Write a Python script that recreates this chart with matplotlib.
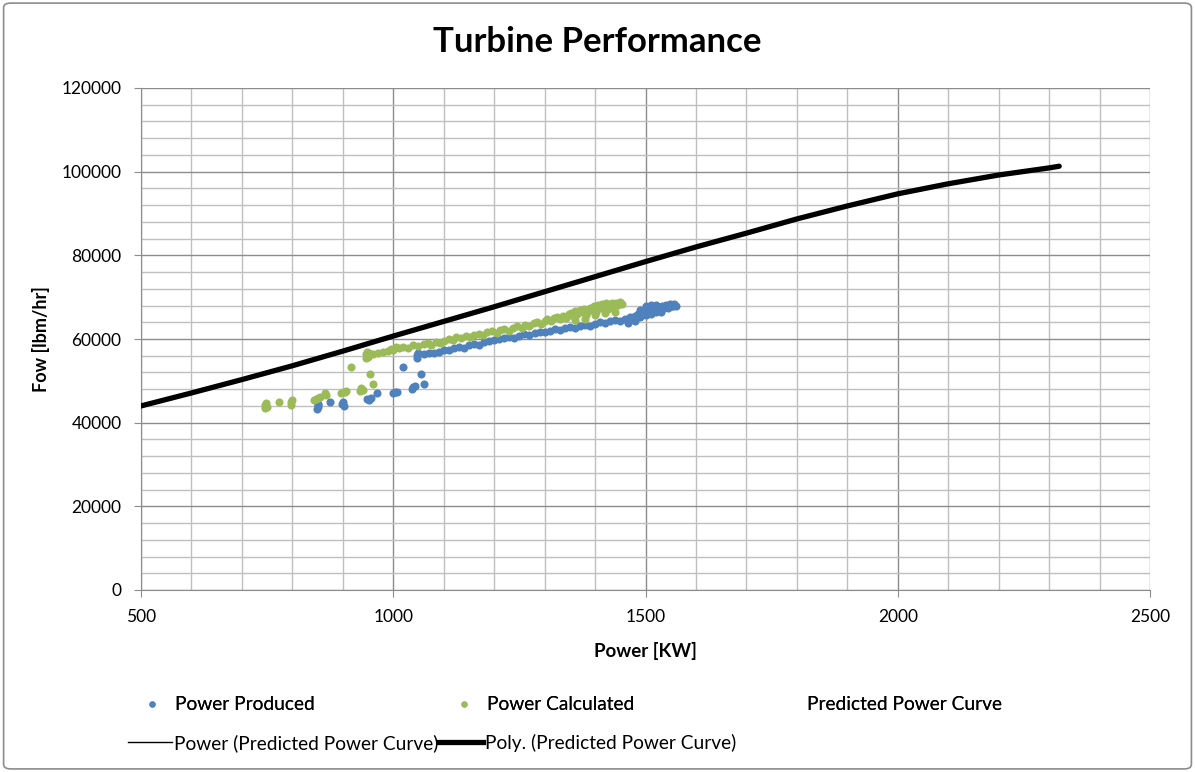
import matplotlib.pyplot as plt
from matplotlib.lines import Line2D
from matplotlib.patches import FancyBboxPatch
from matplotlib.ticker import MultipleLocator

plt.rcParams['font.family'] = ['Lato', 'DejaVu Sans']

# predicted power curve
curve_kw = [500, 600, 700, 800, 900, 1000, 1100, 1200, 1300, 1400, 1500,
            1600, 1700, 1800, 1900, 2000, 2100, 2200, 2300, 2320]
curve_flow = [44000, 47100, 50300, 53600, 57100, 60700, 64200, 67700, 71300, 74900, 78500,
              82000, 85300, 88700, 91800, 94700, 97100, 99200, 100900, 101300]

# power produced (blue)
produced_kw = [848, 850, 851, 850, 875, 898, 900, 902, 948, 952, 955, 967, 1000, 1004, 1008,
               1019, 1037, 1040, 1043, 1055, 1060, 1047, 1048, 1050,
               1060, 1070, 1080, 1090, 1100, 1110, 1120, 1130, 1140, 1150, 1160, 1170, 1180,
               1190, 1200, 1210, 1220, 1230, 1240, 1250, 1260, 1270, 1280, 1290, 1300, 1310,
               1320, 1330, 1340, 1350, 1360, 1370, 1380, 1390, 1400, 1410, 1420, 1430, 1440,
               1450, 1460, 1470, 1475, 1480, 1485, 1490, 1495, 1500, 1505, 1510, 1515, 1520,
               1524, 1528, 1532, 1536, 1540, 1544, 1548, 1552, 1556, 1560, 1500, 1510, 1520,
               1490, 1530, 1545, 1555, 1480, 1465]
produced_flow = [43200, 43700, 44200, 44500, 44900, 44400, 45000, 44100, 45700, 45300, 46000,
                 47000, 47200, 47300, 47300, 53400, 48000, 48500, 48700, 51600, 49200, 55500,
                 56200, 56700,
                 56300, 56600, 56600, 57000, 57400, 57300, 57800, 58100, 57900, 58500, 58800,
                 58600, 59200, 59500, 59800, 60000, 60200, 60500, 60300, 60800, 61100, 60900,
                 61400, 61700, 61600, 62000, 62300, 62100, 62600, 62900, 62700, 63200, 63400,
                 63200, 63700, 64000, 63800, 64300, 64600, 64200, 64900, 65200, 64800, 65400,
                 65900, 65200, 66300, 65700, 66700, 66000, 67100, 66500, 67600, 67000, 68000,
                 67400, 68200, 67700, 68400, 67900, 68300, 68000, 67800, 68100, 68200, 67000,
                 66500, 67300, 68000, 64300, 63900]

# power calculated (green)
calculated_kw = [745, 746, 748, 750, 773, 797, 797, 799, 843, 847, 851, 855, 864, 866,
                 896, 900, 904, 907, 916, 935, 937, 940, 954, 960,
                 945, 946, 948, 950, 952,
                 960, 970, 980, 990, 995, 1000, 1005, 1012, 1020, 1030, 1040, 1050, 1060,
                 1068, 1075, 1085, 1093, 1100, 1110, 1118, 1125, 1135, 1145, 1152, 1160,
                 1170, 1178, 1185, 1195, 1205, 1212, 1220, 1230, 1238, 1245, 1255, 1262,
                 1270, 1278, 1285, 1292, 1300, 1305, 1312, 1318, 1325, 1330, 1336, 1342,
                 1348, 1352, 1356, 1360, 1365, 1370, 1374, 1378, 1382, 1386, 1390, 1394,
                 1398, 1402, 1406, 1410, 1414, 1418, 1422, 1426, 1430, 1434, 1438, 1442,
                 1446, 1450, 1454, 1420, 1400, 1440, 1380, 1360]
calculated_flow = [43400, 44200, 44700, 43800, 44900, 44900, 44200, 45300, 45300, 45700,
                   46000, 46100, 47000, 46700, 47100, 47400, 47300, 47500, 53400, 47600,
                   48200, 47800, 51600, 49200,
                   55500, 56300, 56900, 55800, 56600,
                   56500, 56700, 56900, 57100, 57700, 57400, 58000, 57900, 58200, 57800,
                   58500, 58300, 58700, 59000, 58600, 59300, 59000, 59600, 60000, 59700,
                   60400, 60200, 60800, 60500, 61000, 61200, 60900, 61600, 61800, 61500,
                   62100, 62400, 62000, 62700, 63000, 62700, 63400, 63200, 63800, 64100,
                   63700, 64400, 64800, 64300, 65000, 65300, 64800, 65600, 65100, 65900,
                   66200, 65500, 66600, 66000, 66900, 66400, 67200, 65800, 66700, 67500,
                   67000, 67800, 66500, 68100, 67400, 68300, 67800, 68500, 67200, 68300,
                   68700, 67900, 68600, 68200, 68800, 68400, 66200, 65800, 66500, 64900,
                   64500]

blue = '#4f81bd'
green = '#9bbb59'

fig = plt.figure(figsize=(11.95, 7.72), dpi=100)
ax = fig.add_axes([141 / 1195, 1 - 590 / 772, 1009 / 1195, 502 / 772])

ax.scatter(produced_kw, produced_flow, s=34, color=blue, linewidths=0, zorder=3)
ax.scatter(calculated_kw, calculated_flow, s=34, color=green, linewidths=0, zorder=3)
ax.plot(curve_kw, curve_flow, color='black', lw=1, zorder=4)
ax.plot(curve_kw, curve_flow, color='black', lw=3.8, solid_capstyle='round', zorder=4)

ax.set_xlim(500, 2500)
ax.set_ylim(0, 120000)
ax.xaxis.set_major_locator(MultipleLocator(500))
ax.xaxis.set_minor_locator(MultipleLocator(100))
ax.yaxis.set_major_locator(MultipleLocator(20000))
ax.yaxis.set_minor_locator(MultipleLocator(4000))
ax.grid(which='major', color='#8c8c8c', lw=1)
ax.grid(which='minor', color='#bfbfbf', lw=1)
ax.set_axisbelow(True)
ax.tick_params(which='major', direction='out', length=5, color='#8c8c8c',
               labelsize=12.5, pad=9)
ax.tick_params(which='minor', length=0)
for s in ['top', 'right']:
    ax.spines[s].set_visible(False)
for s in ['left', 'bottom']:
    ax.spines[s].set_color('#8c8c8c')

ax.set_xlabel('Power [KW]', fontsize=13.5, fontweight='bold', labelpad=12)
ax.set_ylabel('Fow [lbm/hr]', fontsize=13, fontweight='bold', labelpad=8)
fig.text(0.5, 1 - 42 / 772, 'Turbine Performance', ha='center', va='center',
         fontsize=25, fontweight='bold')

# legend, two rows like the excel one
row1 = [Line2D([], [], marker='o', ls='none', ms=3.5, color=blue),
        Line2D([], [], marker='o', ls='none', ms=3.5, color=green),
        Line2D([], [], ls='none')]
row2 = [Line2D([], [], color='black', lw=1),
        Line2D([], [], color='black', lw=3.8)]
leg1 = fig.legend(row1, ['Power Produced', 'Power Calculated', 'Predicted Power Curve'],
                  ncol=3, loc='center left', bbox_to_anchor=(131 / 1195, 1 - 705 / 772),
                  frameon=False, fontsize=13.8, handlelength=2.2, handletextpad=0.1,
                  columnspacing=6.7, borderpad=0, borderaxespad=0)
fig.legend(row2, ['Power (Predicted Power Curve)', 'Poly. (Predicted Power Curve)'],
           ncol=2, loc='center left', bbox_to_anchor=(128 / 1195, 1 - 743 / 772),
           frameon=False, fontsize=13.8, handlelength=2.3, handletextpad=0.1,
           columnspacing=0.05, borderpad=0, borderaxespad=0)
fig.add_artist(leg1)

border = FancyBboxPatch((0.003, 0.004), 0.994, 0.992, boxstyle='round,pad=0,rounding_size=0.006',
                        transform=fig.transFigure, fill=False, edgecolor='#8c8c8c', lw=1.2)
fig.add_artist(border)

fig.savefig('out.png', dpi=100)
